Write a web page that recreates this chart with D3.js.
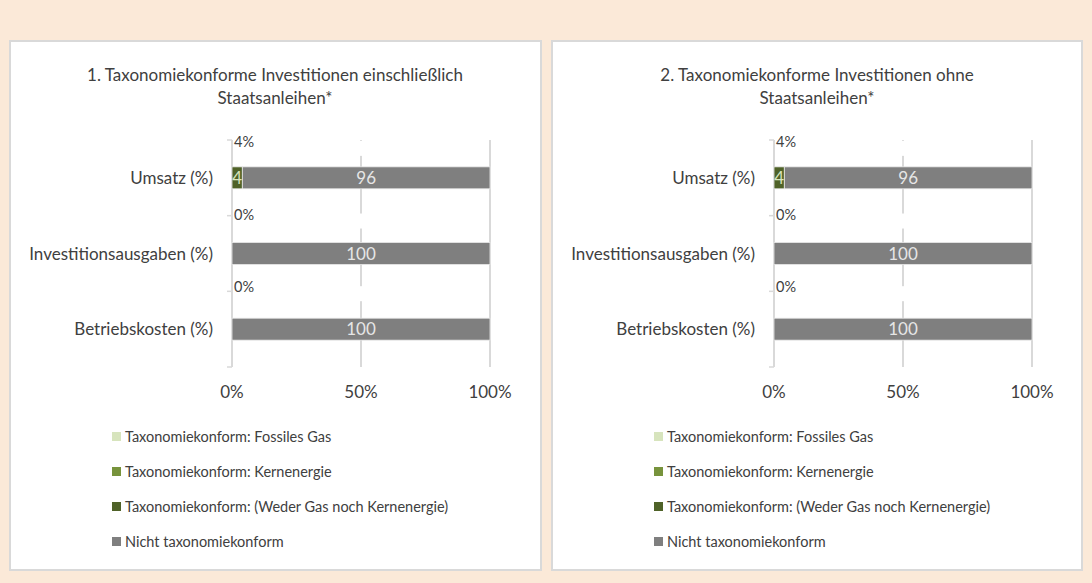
<!DOCTYPE html>
<html>
  <head>
    <meta charset="utf-8" />
    <title>Taxonomiekonforme Investitionen</title>
    <script src="https://cdn.jsdelivr.net/npm/d3@7"></script>
    <style>
      html,
      body {
        margin: 0;
        padding: 0;
        background: #fbe9d8;
      }
      svg {
        display: block;
      }
      text {
        font-family: Lato, "Open Sans", sans-serif;
        fill: #404040;
      }
    </style>
  </head>
  <body>
    <svg width="1092" height="583" id="mainsvg"></svg>
    <script>
      // data
      const categories = ["Umsatz (%)", "Investitionsausgaben (%)", "Betriebskosten (%)"];
      const seriesNames = [
        "Taxonomiekonform: Fossiles Gas",
        "Taxonomiekonform: Kernenergie",
        "Taxonomiekonform: (Weder Gas noch Kernenergie)",
        "Nicht taxonomiekonform",
      ];
      const seriesColors = ["#d7e4bd", "#77933c", "#4f6228", "#7f7f7f"];
      const labelColors = ["#404040", "#d7e4bd", "#d7e4bd", "#e6e6e6"];

      // chart 1: including sovereign bonds
      const gas1 = [0, 0, 0];
      const kern1 = [0, 0, 0];
      const weder1 = [4, 0, 0];
      const nicht1 = [96, 100, 100];

      // chart 2: without sovereign bonds
      const gas2 = [0, 0, 0];
      const kern2 = [0, 0, 0];
      const weder2 = [4, 0, 0];
      const nicht2 = [96, 100, 100];

      const xTicks = [0, 50, 100];

      const titles = [
        ["1. Taxonomiekonforme Investitionen einschließlich", "Staatsanleihen*"],
        ["2. Taxonomiekonforme Investitionen ohne", "Staatsanleihen*"],
      ];

      const svg = d3.select("#mainsvg");

      function drawPanel(px, pw, title, series) {
        const g = svg.append("g").attr("transform", `translate(${px}, 0)`);

        g.append("rect")
          .attr("x", 0)
          .attr("y", 41)
          .attr("width", pw)
          .attr("height", 529)
          .attr("fill", "#fff")
          .attr("stroke", "#d9d9d9")
          .attr("stroke-width", 2);

        g.selectAll(".title")
          .data(title)
          .join("text")
          .attr("class", "title")
          .attr("x", 265)
          .attr("y", (d, i) => 81 + i * 23)
          .attr("text-anchor", "middle")
          .style("font-size", "17px")
          .text((d) => d);

        const xScale = d3.scaleLinear().domain([0, 100]).range([222, 480]);
        const yScale = d3
          .scaleBand()
          .domain(categories)
          .range([140, 367])
          .paddingInner(0.71)
          .paddingOuter(0.355);
        const step = yScale.step();

        // rows: one object per category, stacked
        const rows = categories.map((c, i) => {
          const r = { cat: c };
          series.forEach((s, j) => (r["s" + j] = s[i]));
          return r;
        });
        const keys = series.map((s, j) => "s" + j);
        const stacked = d3.stack().keys(keys)(rows);

        // gridlines
        g.selectAll(".grid")
          .data(xTicks.slice(1))
          .join("line")
          .attr("class", "grid")
          .attr("x1", (d) => xScale(d))
          .attr("x2", (d) => xScale(d))
          .attr("y1", 140)
          .attr("y2", 367)
          .attr("stroke", "#d9d9d9")
          .attr("stroke-width", 2);

        // y axis line + ticks on category boundaries
        g.append("line")
          .attr("x1", xScale(0))
          .attr("x2", xScale(0))
          .attr("y1", 140)
          .attr("y2", 367)
          .attr("stroke", "#d9d9d9")
          .attr("stroke-width", 2);
        g.selectAll(".ytick")
          .data(d3.range(categories.length + 1))
          .join("line")
          .attr("class", "ytick")
          .attr("x1", xScale(0) - 5)
          .attr("x2", xScale(0))
          .attr("y1", (i) => 140 + i * step)
          .attr("y2", (i) => 140 + i * step)
          .attr("stroke", "#d9d9d9")
          .attr("stroke-width", 1.5);

        // taxonomy-aligned totals shown above each bar
        const totals = categories.map((c, i) => series[0][i] + series[1][i] + series[2][i]);
        const totalY = (i) => yScale(categories[i]) - 25 - 3 * i;

        // white label boxes cutting the 50% gridline
        g.selectAll(".gap")
          .data(totals)
          .join("rect")
          .attr("class", "gap")
          .attr("x", xScale(50) - 3)
          .attr("width", 6)
          .attr("y", (d, i) => totalY(i) - 1)
          .attr("height", 15)
          .attr("fill", "#fff");

        g.selectAll(".total")
          .data(totals)
          .join("text")
          .attr("class", "total")
          .attr("x", xScale(0) + 2)
          .attr("y", (d, i) => totalY(i) + 5)
          .style("font-size", "14.5px")
          .text((d) => d + "%");

        // bars
        const layers = g
          .selectAll(".layer")
          .data(stacked)
          .join("g")
          .attr("class", "layer")
          .attr("fill", (d, i) => seriesColors[i]);
        layers
          .selectAll("rect")
          .data((d) => d.filter((p) => p[1] - p[0] > 0))
          .join("rect")
          .attr("x", (d) => xScale(d[0]))
          .attr("width", (d) => xScale(d[1]) - xScale(d[0]))
          .attr("y", (d) => yScale(d.data.cat))
          .attr("height", yScale.bandwidth())
          .attr("stroke", "#e8e8e8")
          .attr("stroke-width", 0.8);

        // bar value labels
        stacked.forEach((layer, li) => {
          g.selectAll(".val" + li)
            .data(layer.filter((p) => p[1] - p[0] > 0))
            .join("text")
            .attr("class", "val" + li)
            .attr("x", (d) => (xScale(d[0]) + xScale(d[1])) / 2)
            .attr("y", (d) => yScale(d.data.cat) + yScale.bandwidth() / 2 + 6)
            .attr("text-anchor", "middle")
            .style("font-size", "17px")
            .style("fill", labelColors[li])
            .text((d) => d[1] - d[0]);
        });

        // category labels
        g.selectAll(".cat")
          .data(categories)
          .join("text")
          .attr("class", "cat")
          .attr("x", xScale(0) - 19)
          .attr("y", (d) => yScale(d) + yScale.bandwidth() / 2 + 6)
          .attr("text-anchor", "end")
          .style("font-size", "17px")
          .text((d) => d);

        // x tick labels
        g.selectAll(".xlab")
          .data(xTicks)
          .join("text")
          .attr("class", "xlab")
          .attr("x", (d) => xScale(d))
          .attr("y", 398)
          .attr("text-anchor", "middle")
          .style("font-size", "17px")
          .text((d) => d + "%");

        // legend
        const legend = g
          .selectAll(".legend")
          .data(seriesNames)
          .join("g")
          .attr("class", "legend")
          .attr("transform", (d, i) => `translate(102, ${432 + i * 35})`);
        legend
          .append("rect")
          .attr("width", 9)
          .attr("height", 9)
          .attr("fill", (d, i) => seriesColors[i]);
        legend
          .append("text")
          .attr("x", 13)
          .attr("y", 9.5)
          .style("font-size", "14.5px")
          .text((d) => d);
      }

      drawPanel(10, 531, titles[0], [gas1, kern1, weder1, nicht1]);
      drawPanel(552, 530, titles[1], [gas2, kern2, weder2, nicht2]);
    </script>
  </body>
</html>
